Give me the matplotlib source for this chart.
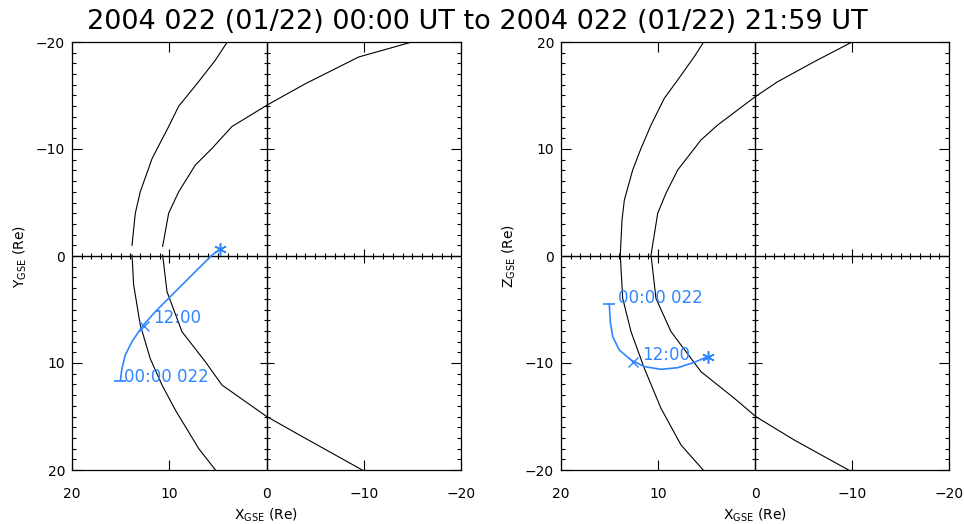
import numpy as np
import matplotlib
matplotlib.use('Agg')
import matplotlib.pyplot as plt

title = "2004 022 (01/22) 00:00 UT to 2004 022 (01/22) 21:59 UT"
xlabel = r"X$_{\rm GSE}$ (Re)"
ylabel_left = r"Y$_{\rm GSE}$ (Re)"
ylabel_right = r"Z$_{\rm GSE}$ (Re)"
tick_vals = [20, 10, 0, -10, -20]

# ---- X-Y plane (left) ----
bs_xy_n_x = [3.89, 5.26, 7.15, 9.03, 10.06, 11.77, 12.98, 13.49, 13.83]
bs_xy_n_y = [-20.2, -18.3, -16.1, -14.0, -12.1, -9.1, -6.0, -4.0, -1.0]
bs_xy_s_x = [13.83, 13.66, 12.98, 11.95, 10.75, 9.37, 6.97, 4.99]
bs_xy_s_y = [-0.1, 2.7, 6.45, 9.6, 12.05, 14.4, 18.0, 20.3]

mp_xy_n_x = [-14.96, -9.48, -4.0, -0.05, 3.55, 5.6, 7.32, 9.03, 10.06, 10.68]
mp_xy_n_y = [-20.0, -18.6, -16.1, -14.1, -12.1, -10.06, -8.5, -6.0, -4.0, -0.9]
mp_xy_s_x = [10.68, 10.23, 8.69, 6.29, 4.58, -0.05, -4.0, -10.16]
mp_xy_s_y = [-0.1, 3.34, 7.08, 9.88, 12.06, 15.02, 17.04, 20.16]

traj_xy_x = [15.03, 14.93, 14.86, 14.52, 13.83, 12.8, 11.43, 9.72, 8.0, 5.6, 4.75]
traj_xy_y = [11.68, 10.96, 10.5, 9.25, 8.0, 6.6, 5.2, 3.64, 2.08, -0.09, -0.63]
mark12_xy = (12.63, 6.51)

# ---- X-Z plane (right) ----
bs_xz_x = [5.15, 6.26, 7.97, 9.35, 10.72, 11.75, 12.61, 13.47, 13.71, 13.89,
           13.64, 12.78, 11.41, 9.69, 7.63, 5.05]
bs_xz_z = [20.2, 18.63, 16.45, 14.74, 12.24, 10.06, 8.04, 5.23, 3.36, 0.09,
           -3.96, -7.07, -10.5, -14.24, -17.66, -20.3]
mp_xz_x = [-10.07, -6.11, -2.34, -0.03, 3.85, 5.57, 7.97, 9.18, 10.03, 10.72,
           10.21, 8.66, 5.57, 2.13, -0.1, -4.05, -10.24]
mp_xz_z = [20.03, 18.16, 16.29, 14.89, 12.24, 10.84, 8.04, 5.86, 3.99, 0.09,
           -3.96, -7.07, -10.81, -13.3, -15.02, -17.2, -20.3]

traj_xz_x = [15.02, 14.92, 14.67, 13.99, 12.78, 11.41, 9.69, 7.97, 6.26, 4.88]
traj_xz_z = [-4.51, -6.14, -7.54, -8.79, -9.72, -10.34, -10.59, -10.44, -9.94, -9.41]
mark12_xz = (12.61, -9.88)

start_label = "00:00 022"
mid_label = "12:00"

BLUE = '#2f86ff'
W, H = 964, 524
fig = plt.figure(figsize=(W / 100, H / 100), dpi=100)

def setup(ax, ylabel, invert):
    ax.set_xlim(20, -20)
    if invert:
        ax.set_ylim(20, -20)
    else:
        ax.set_ylim(-20, 20)
    ax.set_xticks(tick_vals)
    ax.set_yticks(tick_vals)
    ax.set_yticks(np.arange(-20, 21, 1), minor=True)
    ax.tick_params(axis='x', which='major', direction='in', length=7.2, width=0.8,
                   top=True, bottom=True, labelsize=10, pad=12)
    ax.tick_params(axis='y', which='major', direction='in', length=7.2, width=0.8,
                   left=True, right=True, labelsize=10, pad=5)
    ax.tick_params(axis='y', which='minor', direction='in', length=2.9, width=0.8,
                   left=True, right=True)
    ax.set_xticklabels([f"{v}".replace('-', '\u2212') for v in tick_vals])
    ax.set_yticklabels([f"{v}".replace('-', '\u2212') for v in tick_vals])
    for s in ax.spines.values():
        s.set_linewidth(0.9)
    ax.set_xlabel(xlabel, fontsize=10, labelpad=4)
    ax.set_ylabel(ylabel, fontsize=10, labelpad=5)
    # zero axes with ticks
    ax.axhline(0, color='black', lw=1.0)
    ax.axvline(0, color='black', lw=1.0)
    mn = np.arange(-19, 20, 1)
    minor = mn[(mn % 10) != 0]
    ax.plot(minor, np.zeros_like(minor), ls='none', marker='|', ms=5, mew=0.8, color='black')
    ax.plot(np.zeros_like(minor), minor, ls='none', marker='_', ms=5, mew=0.8, color='black')
    mj = np.array([-10, 10])
    ax.plot(mj, np.zeros_like(mj), ls='none', marker='|', ms=10, mew=0.8, color='black')
    ax.plot(np.zeros_like(mj), mj, ls='none', marker='_', ms=10, mew=0.8, color='black')

ax1 = fig.add_axes([72 / W, 1 - 470 / H, 389 / W, 428 / H])
setup(ax1, ylabel_left, True)
for xs, ys in [(bs_xy_n_x, bs_xy_n_y), (bs_xy_s_x, bs_xy_s_y),
               (mp_xy_n_x, mp_xy_n_y), (mp_xy_s_x, mp_xy_s_y)]:
    ax1.plot(xs, ys, color='black', lw=0.8)
ax1.plot(traj_xy_x, traj_xy_y, color=BLUE, lw=1.2)
ax1.plot(traj_xy_x[0], traj_xy_y[0], marker='_', ms=8, mew=1.2, color=BLUE)
ax1.plot(traj_xy_x[-1], traj_xy_y[-1], marker=(6, 2, 0), ms=9, mew=1.1, color=BLUE)
ax1.plot(*mark12_xy, marker='x', ms=7, mew=1.0, color=BLUE)
ax1.annotate(start_label, (traj_xy_x[0], traj_xy_y[0]), xytext=(2.5, 3),
             textcoords='offset points', color=BLUE, fontsize=12, va='center', ha='left')
ax1.annotate(mid_label, mark12_xy, xytext=(7, 5.5),
             textcoords='offset points', color=BLUE, fontsize=12, va='center', ha='left')

ax2 = fig.add_axes([561 / W, 1 - 470 / H, 388 / W, 428 / H])
setup(ax2, ylabel_right, False)
ax2.plot(bs_xz_x, bs_xz_z, color='black', lw=0.8)
ax2.plot(mp_xz_x, mp_xz_z, color='black', lw=0.8)
ax2.plot(traj_xz_x, traj_xz_z, color=BLUE, lw=1.2)
ax2.plot(traj_xz_x[0], traj_xz_z[0], marker='_', ms=8, mew=1.2, color=BLUE)
ax2.plot(traj_xz_x[-1], traj_xz_z[-1], marker=(6, 2, 0), ms=9, mew=1.1, color=BLUE)
ax2.plot(*mark12_xz, marker='x', ms=7, mew=1.0, color=BLUE)
ax2.annotate(start_label, (traj_xz_x[0], traj_xz_z[0]), xytext=(6, 4.5),
             textcoords='offset points', color=BLUE, fontsize=12, va='center', ha='left')
ax2.annotate(mid_label, mark12_xz, xytext=(7, 5),
             textcoords='offset points', color=BLUE, fontsize=12, va='center', ha='left')

fig.text(477 / W, 1 - 22 / H, title, fontsize=19.5, ha='center', va='center')

fig.savefig('out.png', dpi=100)
